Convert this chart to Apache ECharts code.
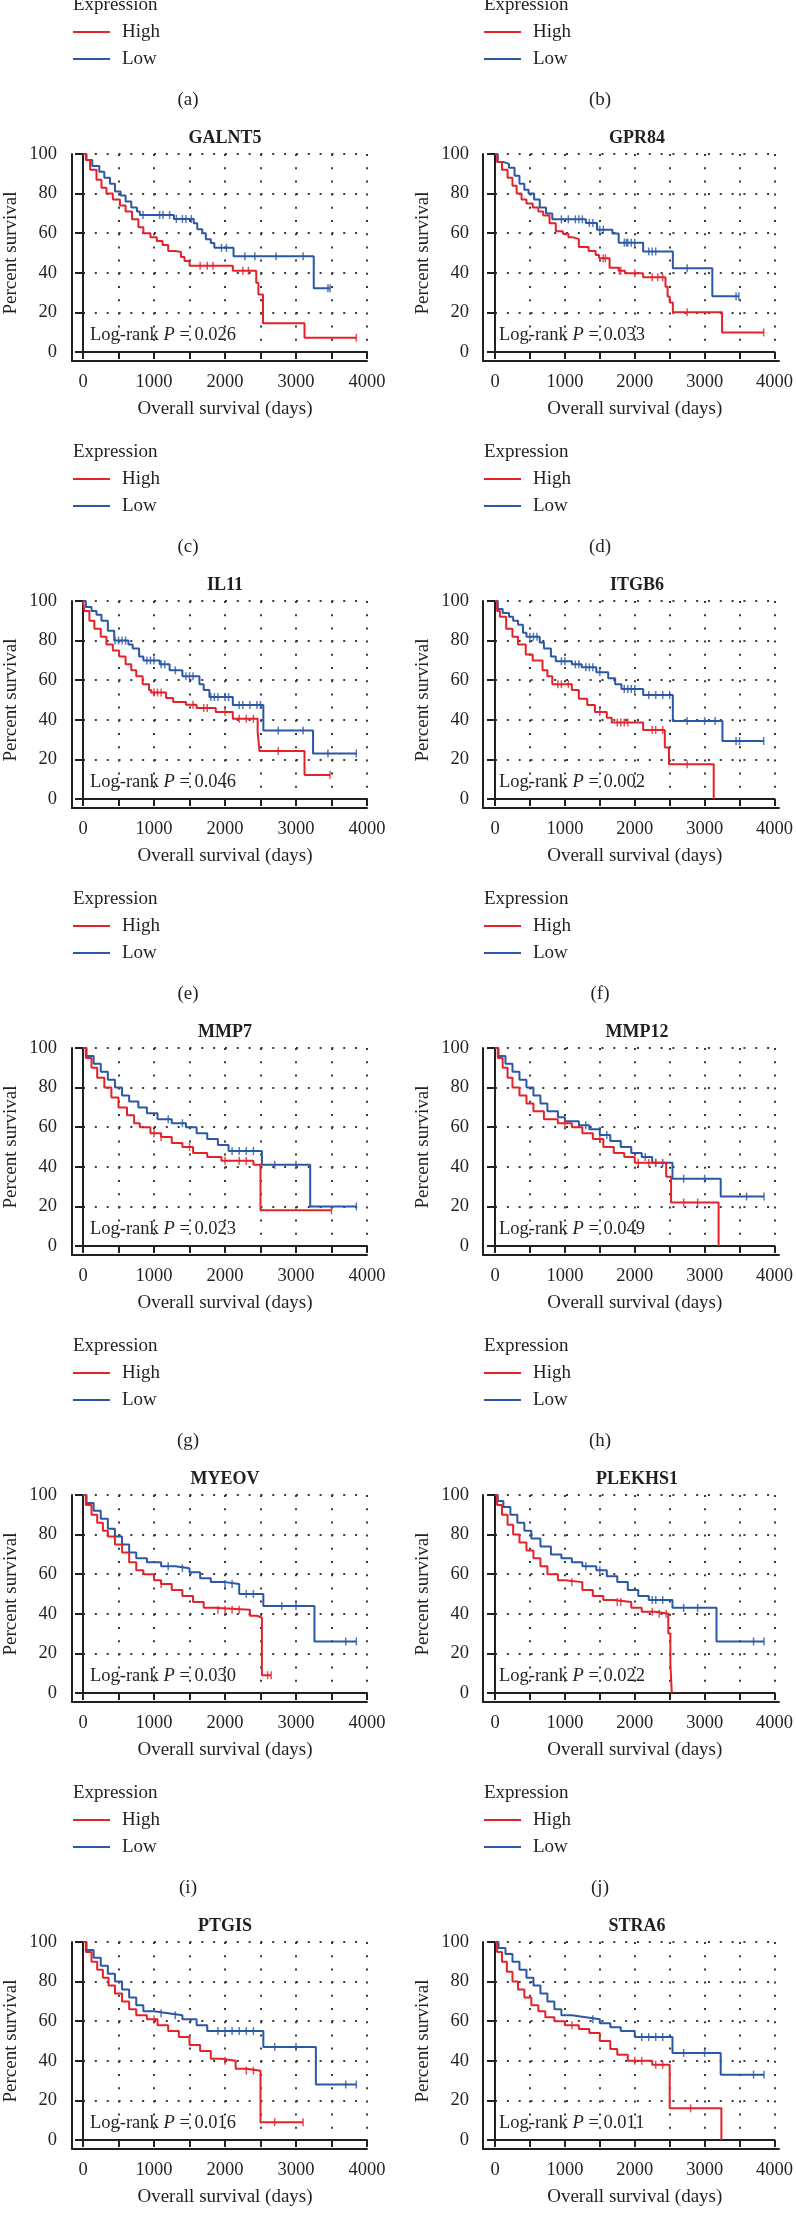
<!DOCTYPE html>
<html>
<head>
<meta charset="utf-8">
<script src="https://cdn.jsdelivr.net/npm/echarts@6.0.0/dist/echarts.min.js"></script>
<style>
body{margin:0;background:#fff}
#main{width:796px;height:2237px}
</style>
</head>
<body>
<div id="main"></div>
<script>
// KM curves: [day, percent survival after the step]
var galnt5High = [[0,100],[40,97],[100,92],[190,87],[260,83],[330,80],[420,77],[520,74],[600,71],[690,67],[780,63],[850,60],[950,58],[1040,56],[1120,54],[1200,51],[1300,50.5],[1380,48],[1430,46],[1500,43.5],[2110,41],[2440,35],[2470,29],[2535,14.5],[3120,7.2],[3850,7.2]];
var galnt5Low = [[0,100],[50,97],[130,94],[230,91],[300,88],[380,85],[450,81],[530,79],[600,76],[680,73],[760,71],[800,69.2],[1280,67.2],[1560,65],[1610,62],[1680,60],[1730,57],[1800,55],[1850,52.6],[2120,48.4],[3250,32.2],[3480,32.2]];
var gpr84High = [[0,100],[30,96],[100,92],[180,88],[250,84],[310,80],[380,77],[450,75],[540,73],[620,71],[690,69],[780,65],[870,61],[970,59.7],[1050,58],[1110,57],[1200,53],[1340,51],[1440,49],[1490,47.3],[1640,42.5],[1770,41],[1860,39.8],[2120,37.7],[2440,33],[2470,28],[2500,25],[2545,20.1],[3250,9.9],[3845,9.9]];
var gpr84Low = [[0,100],[40,96],[120,95],[200,93],[280,89],[350,85],[420,82],[480,80],[560,77],[640,73],[730,70],[820,67],[1300,65.2],[1460,61.8],[1680,59.8],[1770,55.2],[2120,50.8],[2545,42.3],[3110,28.1],[3490,28.1]];
var il11High = [[0,100],[20,95],[90,90],[160,86],[250,82],[330,78],[420,75],[510,72],[600,68],[680,65],[750,62],[840,58],[930,55],[960,53.8],[1170,51],[1270,49],[1450,47.6],[1600,46],[1870,44],[2110,40.5],[2460,34],[2485,24.3],[3120,12.1],[3480,12.1]];
var il11Low = [[0,100],[40,97],[120,95],[190,93],[260,90],[350,85],[440,80],[640,78],[700,76],[790,72],[850,70],[1080,68],[1220,65],[1400,62],[1640,58],[1700,55],[1780,51.5],[2110,47.5],[2540,34.6],[3240,23],[3850,23]];
var itgb6High = [[0,100],[30,95],[70,92],[160,86],[250,82],[330,78],[440,73],[540,70],[680,65],[750,62],[820,58],[1100,55],[1200,50.6],[1320,47.5],[1430,44],[1600,41],[1670,38.6],[2120,34.9],[2430,26],[2490,17.5],[3130,0]];
var itgb6Low = [[0,100],[40,96],[110,94],[200,92],[260,90],[330,88],[400,84],[450,82],[640,79],[700,76],[800,72],[870,69.6],[1100,68],[1240,66.5],[1450,64],[1620,61],[1720,58],[1810,55.6],[2120,52.5],[2545,39.4],[3255,29.3],[3845,29.3]];
var mmp7High = [[0,100],[40,95],[120,90],[200,85],[300,80],[400,75],[500,70],[620,66],[720,62],[800,60],[950,57],[1100,55],[1250,52],[1400,50],[1550,47],[1750,45],[1950,43],[2400,41],[2500,18],[3500,18]];
var mmp7Low = [[0,100],[50,96],[150,92],[250,88],[350,84],[450,80],[550,76],[650,73],[780,70],[900,67],[1050,64],[1250,62],[1450,60],[1600,57],[1750,54],[1900,51],[2050,48],[2520,41],[3200,20],[3850,20]];
var mmp12High = [[0,100],[40,95],[110,90],[180,85],[250,80],[350,76],[450,72],[550,68],[700,64],[900,62],[1100,60],[1250,57],[1400,54],[1550,50],[1700,47],[1850,45],[2000,42],[2450,35],[2520,22],[3200,0]];
var mmp12Low = [[0,100],[50,96],[150,92],[250,88],[350,84],[450,80],[550,76],[650,72],[750,68],[900,65],[1000,63],[1200,61],[1350,59],[1500,56],[1650,53],[1800,50],[1950,47],[2100,45],[2250,42],[2540,34],[3230,25],[3850,25]];
var myeovHigh = [[0,100],[40,95],[120,90],[200,86],[280,82],[350,79],[450,75],[550,71],[650,66],[750,62],[850,60],[1000,57],[1100,55],[1250,52],[1400,49],[1550,46],[1700,43],[1850,42],[2350,39],[2450,38],[2520,9],[2650,9]];
var myeovLow = [[0,100],[50,96],[150,92],[250,88],[350,83],[450,79],[550,75],[650,71],[750,68],[900,66],[1100,64],[1300,63],[1500,61],[1650,58],[1800,56],[2000,55],[2200,50],[2540,44],[3260,26],[3850,26]];
var plekhs1High = [[0,100],[30,95],[100,90],[180,85],[260,80],[350,76],[450,72],[550,68],[650,64],[750,60],[900,57],[1000,56],[1250,52],[1400,49],[1550,47],[1700,46],[1950,43],[2100,41],[2300,40],[2480,30],[2510,15],[2530,0]];
var plekhs1Low = [[0,100],[40,97],[120,94],[220,90],[320,86],[420,82],[520,78],[650,74],[800,70],[950,68],[1100,66],[1250,64],[1450,62],[1600,59],[1750,56],[1900,52],[2050,49],[2200,47],[2540,43],[3170,26],[3850,26]];
var ptgisHigh = [[0,100],[40,95],[120,90],[200,86],[280,82],[360,78],[450,74],[550,70],[650,66],[750,63],[900,61],[1050,58],[1200,55],[1350,52],[1500,48],[1650,45],[1800,41],[1950,40],[2150,36],[2300,35],[2500,9],[3100,9]];
var ptgisLow = [[0,100],[50,96],[150,92],[250,88],[350,84],[450,80],[550,76],[650,72],[750,68],[850,65],[1000,64],[1200,63],[1400,61],[1600,58],[1750,55],[2540,47],[3280,28],[3850,28]];
var stra6High = [[0,100],[30,95],[100,90],[170,85],[250,80],[330,76],[420,72],[520,68],[620,65],[720,62],[850,60],[1000,58],[1200,56],[1350,54],[1500,50],[1650,46],[1750,43],[1900,40],[2250,38],[2500,16],[3240,0]];
var stra6Low = [[0,100],[50,97],[150,94],[250,90],[350,86],[450,82],[550,78],[650,74],[750,70],[850,66],[950,63],[1100,62],[1300,61],[1500,59],[1650,57],[1800,55],[2000,52],[2540,44],[3230,33],[3850,33]];

// censored times (days)
var galnt5HighCens = [1650,1750,1830,2250,2330,3850];
var galnt5LowCens = [845,1080,1127,1220,1315,1400,1450,1526,1950,2020,2280,2420,2720,3100,3450,3480];
var gpr84HighCens = [1550,1580,1780,1800,2000,2250,2330,2400,2750,3845];
var gpr84LowCens = [950,1050,1150,1200,1250,1350,1400,1500,1550,1850,1880,1900,1950,2000,2200,2250,2300,2750,3450,3490];
var il11HighCens = [1000,1050,1100,1550,1700,1750,2000,2200,2300,2400,2750,3480];
var il11LowCens = [450,500,550,600,900,950,1000,1100,1150,1300,1450,1500,1550,1800,1850,1900,2000,2050,2200,2250,2350,2450,2500,2750,3100,3450,3850];
var itgb6HighCens = [900,950,1050,1500,1750,1800,1850,1900,2250,2300,2400,2750];
var itgb6LowCens = [500,550,600,950,1000,1150,1200,1300,1350,1400,1500,1850,1900,1950,2000,2200,2300,2400,2500,2750,3000,3150,3450,3500,3845];
var mmp7HighCens = [1000,1100,1500,2000,2200,2300,3500];
var mmp7LowCens = [1200,1400,2100,2200,2300,2400,2700,3000,3850];
var mmp12HighCens = [1000,1500,2050,2200,2300,2700,2900];
var mmp12LowCens = [1300,1600,2150,2300,2400,2700,3000,3600,3850];
var myeovHighCens = [1100,1900,2000,2100,2200,2600,2650];
var myeovLowCens = [1200,1400,2000,2100,2300,2400,2800,3000,3700,3850];
var plekhs1HighCens = [1100,1750,1800,2250,2350,2450];
var plekhs1LowCens = [1300,1500,2250,2300,2400,2700,2900,3700,3850];
var ptgisHighCens = [1000,2000,2300,2400,2700,3100];
var ptgisLowCens = [1100,1300,1900,2000,2100,2200,2300,2400,2700,3000,3700,3850];
var stra6HighCens = [1100,2000,2100,2300,2400,2800];
var stra6LowCens = [1400,2100,2200,2300,2400,2700,3000,3700,3850];

var genes = ['GALNT5','GPR84','IL11','ITGB6','MMP7','MMP12','MYEOV','PLEKHS1','PTGIS','STRA6'];
var pValues = ['0.026','0.033','0.046','0.002','0.023','0.049','0.030','0.022','0.016','0.011'];
var panelLabels = ['(a)','(b)','(c)','(d)','(e)','(f)','(g)','(h)','(i)','(j)','(k)','(l)'];
var highCurves = [galnt5High,gpr84High,il11High,itgb6High,mmp7High,mmp12High,myeovHigh,plekhs1High,ptgisHigh,stra6High];
var lowCurves = [galnt5Low,gpr84Low,il11Low,itgb6Low,mmp7Low,mmp12Low,myeovLow,plekhs1Low,ptgisLow,stra6Low];
var highCens = [galnt5HighCens,gpr84HighCens,il11HighCens,itgb6HighCens,mmp7HighCens,mmp12HighCens,myeovHighCens,plekhs1HighCens,ptgisHighCens,stra6HighCens];
var lowCens = [galnt5LowCens,gpr84LowCens,il11LowCens,itgb6LowCens,mmp7LowCens,mmp12LowCens,myeovLowCens,plekhs1LowCens,ptgisLowCens,stra6LowCens];

var font = 'Liberation Serif';
var ink = '#231f20';
var red = '#e4222a';
var blue = '#2b57a6';
var cols = [{axis:72, x0:83, x1:367, mid:188, logX:90}, {axis:483, x0:495, x1:779, mid:600, logX:499}];
var rowStep = 447;

// value of the step curve at time t (for the censor ticks)
function survAt(curve, t) {
    var s = curve[0][1];
    for (var k = 0; k < curve.length; k++) {
        if (curve[k][0] <= t) s = curve[k][1];
    }
    return s;
}

function buildOption() {
    var grids = [], xAxes = [], yAxes = [], series = [], legends = [], texts = [];

    function addLegend(col, r) {
        var c = cols[col];
        texts.push({type:'text', x:c.axis + 1, y:452 + rowStep*r,
            style:{text:'Expression', fontFamily:font, fontSize:19, fill:ink, align:'left', verticalAlign:'middle'}});
        legends.push({
            orient:'vertical', left:c.axis + 1, top:479 + rowStep*r - 10, padding:0,
            itemGap:7, itemWidth:37, itemHeight:2, icon:'rect', selectedMode:false,
            data:['High','Low'],
            textStyle:{fontFamily:font, fontSize:19, color:ink, lineHeight:20, padding:[0,0,0,7]}
        });
        texts.push({type:'text', x:c.mid, y:547 + rowStep*r,
            style:{text:panelLabels[(r + 1)*2 + col], fontFamily:font, fontSize:19, fill:ink, align:'center', verticalAlign:'middle'}});
    }

    addLegend(0, -1);
    addLegend(1, -1);

    genes.forEach(function (gene, i) {
        var col = i % 2, row = Math.floor(i / 2), c = cols[col];
        var plotTop = 154 + rowStep*row;
        var g = grids.length;
        grids.push({left:c.x0, top:plotTop, width:c.x1 - c.x0, height:198});
        grids.push({left:c.axis, top:plotTop, width:c.x1 - c.axis, height:207});

        xAxes.push({
            gridIndex:g, type:'value', min:0, max:4000, interval:500, offset:9,
            axisLine:{show:true, lineStyle:{color:ink, width:2}},
            axisTick:{show:true, length:7, lineStyle:{color:ink, width:2}},
            axisLabel:{margin:12, fontFamily:font, fontSize:18.5, color:ink,
                formatter:function (v) { return v % 1000 === 0 ? String(v) : ''; }},
            splitLine:{show:true, lineStyle:{color:'#3a3a3a', width:2, type:[2, 11.2]}},
            name:'Overall survival (days)', nameLocation:'middle', nameGap:39,
            nameTextStyle:{fontFamily:font, fontSize:19, color:ink}
        });
        yAxes.push({
            gridIndex:g, type:'value', min:0, max:100, interval:20, offset:11,
            axisLine:{show:true, lineStyle:{color:ink, width:2}},
            axisTick:{show:true, length:8, lineStyle:{color:ink, width:2}},
            axisLabel:{margin:15, fontFamily:font, fontSize:18.5, color:ink},
            splitLine:{show:true, lineStyle:{color:'#3a3a3a', width:2, type:[2, 9.83]}},
            name:'Percent survival', nameLocation:'middle', nameGap:51, nameRotate:90,
            nameTextStyle:{fontFamily:font, fontSize:19, color:ink}
        });
        // frame: top and right border
        xAxes.push({gridIndex:g + 1, type:'value', position:'top', min:0, max:1,
            axisLine:{show:true, lineStyle:{color:ink, width:2}}, axisTick:{show:false}, axisLabel:{show:false}, splitLine:{show:false}});
        yAxes.push({gridIndex:g + 1, type:'value', position:'right', min:0, max:1,
            axisLine:{show:true, lineStyle:{color:ink, width:2}}, axisTick:{show:false}, axisLabel:{show:false}, splitLine:{show:false}});

        series.push({type:'line', name:'Low', xAxisIndex:g, yAxisIndex:g, data:lowCurves[i], step:'end',
            showSymbol:false, symbol:'none', lineStyle:{color:blue, width:2}, itemStyle:{color:blue}, z:3});
        series.push({type:'line', name:'High', xAxisIndex:g, yAxisIndex:g, data:highCurves[i], step:'end',
            showSymbol:false, symbol:'none', lineStyle:{color:red, width:2}, itemStyle:{color:red}, z:4});
        series.push({type:'scatter', name:'Low censored', xAxisIndex:g, yAxisIndex:g, symbol:'rect', symbolSize:[1.5, 8],
            itemStyle:{color:blue}, z:3,
            data:lowCens[i].map(function (t) { return [t, survAt(lowCurves[i], t)]; })});
        series.push({type:'scatter', name:'High censored', xAxisIndex:g, yAxisIndex:g, symbol:'rect', symbolSize:[1.5, 8],
            itemStyle:{color:red}, z:4,
            data:highCens[i].map(function (t) { return [t, survAt(highCurves[i], t)]; })});

        texts.push({type:'text', x:(c.x0 + c.x1)/2, y:138 + rowStep*row,
            style:{text:gene, fontFamily:font, fontSize:18, fontWeight:'bold', fill:ink, align:'center', verticalAlign:'middle'}});
        texts.push({type:'text', x:c.logX, y:335 + rowStep*row,
            style:{text:'{n|Log-rank }{i|P}{n| = ' + pValues[i] + '}', fill:ink, verticalAlign:'middle', align:'left',
                rich:{n:{fontFamily:font, fontSize:18.5, fill:ink}, i:{fontFamily:font, fontSize:18.5, fontStyle:'italic', fill:ink}}}});
        if (row < 4) addLegend(col, row);
    });

    return {
        animation:false,
        backgroundColor:'#fff',
        grid:grids,
        xAxis:xAxes,
        yAxis:yAxes,
        legend:legends,
        series:series,
        graphic:texts
    };
}

var chart = echarts.init(document.getElementById('main'));
chart.setOption(buildOption());
</script>
</body>
</html>
